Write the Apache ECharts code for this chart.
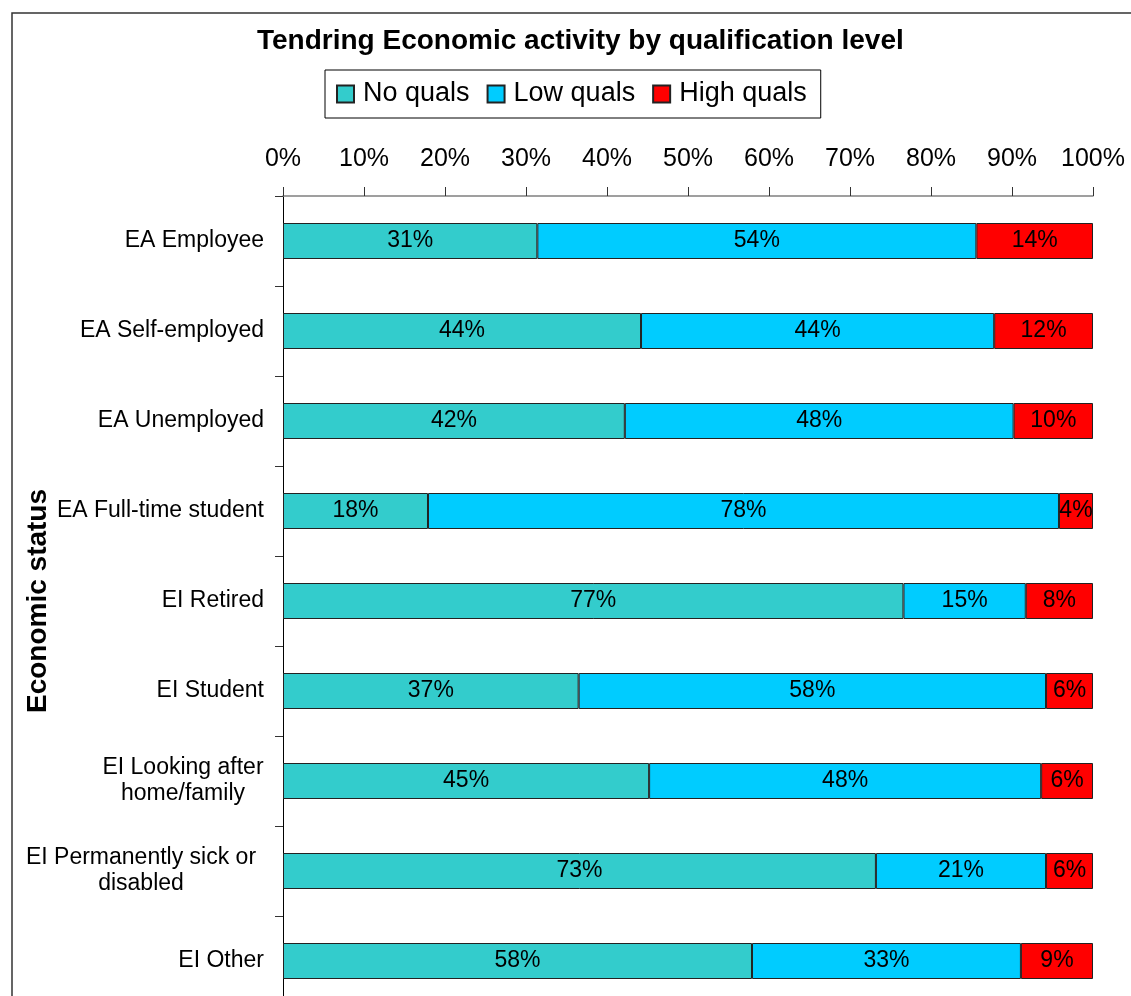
<!DOCTYPE html>
<html>
<head>
<meta charset="utf-8">
<title>Tendring Economic activity by qualification level</title>
<script src="https://cdn.jsdelivr.net/npm/echarts@6/dist/echarts.min.js"></script>
<style>
  html, body { margin: 0; padding: 0; background: #fff; }
  #chart { width: 1131px; height: 996px; }
</style>
</head>
<body>
<div id="chart"></div>
<script>
const categories = [
  "EA Employee",
  "EA Self-employed",
  "EA Unemployed",
  "EA Full-time student",
  "EI Retired",
  "EI Student",
  "EI Looking after\nhome/family",
  "EI Permanently sick or\ndisabled",
  "EI Other"
];
const noQuals   = [31.4, 44.2, 42.2, 17.9, 76.6, 36.5, 45.2, 73.2, 57.9];
const lowQuals  = [54.2, 43.6, 48.0, 77.9, 15.1, 57.7, 48.4, 21.0, 33.2];
const highQuals = [14.4, 12.2,  9.8,  4.2,  8.3,  5.8,  6.4,  5.8,  8.9];

const FONT = "'Liberation Sans', Arial, sans-serif";
const COLORS = { no: "#33CCCC", low: "#00CCFF", high: "#FF0000" };

const chart = echarts.init(document.getElementById("chart"));

// multi-line labels are centred line by line, single ones right aligned
function catLabel(val) {
  if (val.indexOf("\n") < 0) return val;
  const lines = val.split("\n");
  const style = lines[0].length > 18 ? "w" : "n";
  return lines.map(s => `{${style}|${s}}`).join("\n");
}

function barSeries(name, data, color) {
  return {
    name,
    type: "bar",
    stack: "total",
    data,
    barWidth: 36,
    itemStyle: { color, borderColor: "#222", borderWidth: 1 },
    label: {
      show: true,
      position: "inside",
      color: "#000",
      fontSize: 23,
      fontFamily: FONT,
      formatter: p => Math.round(p.value) + "%"
    },
    emphasis: { disabled: true }
  };
}

const richLine = { fontSize: 23, lineHeight: 26, align: "center", fontFamily: FONT, color: "#000" };

chart.setOption({
  backgroundColor: "#fff",
  animation: false,
  textStyle: { fontFamily: FONT },
  title: {
    text: "Tendring Economic activity by qualification level",
    left: 252,
    top: 22,
    textStyle: { fontSize: 28, fontWeight: "bold", color: "#000", fontFamily: FONT }
  },
  legend: {
    left: 325,
    top: 70,
    padding: [10, 14, 10, 11],
    itemWidth: 17,
    itemHeight: 17,
    itemGap: 17,
    icon: "rect",
    borderColor: "#000",
    borderWidth: 1,
    textStyle: { fontSize: 27, lineHeight: 28, color: "#000", fontFamily: FONT, padding: [0, 0, 0, 4] },
    data: ["No quals", "Low quals", "High quals"]
  },
  graphic: [{
    type: "rect",
    shape: { x: 12, y: 13, width: 1300, height: 1200 },
    style: { fill: "none", stroke: "#333", lineWidth: 1.5 },
    silent: true
  }],
  grid: {
    left: 283, top: 196, width: 810, height: 810,
    containLabel: false,
    outerBoundsMode: "none"
  },
  xAxis: {
    type: "value",
    position: "top",
    min: 0,
    max: 100,
    interval: 10,
    axisLine: { show: true, lineStyle: { color: "#808080", width: 1.5 } },
    axisTick: { show: true, length: 9, lineStyle: { color: "#333" } },
    splitLine: { show: false },
    axisLabel: { formatter: "{value}%", fontSize: 25, color: "#000", margin: 24, fontFamily: FONT }
  },
  yAxis: {
    type: "category",
    inverse: true,
    data: categories,
    name: "Economic status",
    nameLocation: "middle",
    nameRotate: 90,
    nameGap: 231,
    nameMoveOverlap: false,
    nameTextStyle: { fontSize: 28, fontWeight: "bold", color: "#000", fontFamily: FONT },
    axisLine: { show: true, lineStyle: { color: "#000", width: 1 } },
    axisTick: { show: true, length: 8, lineStyle: { color: "#333" } },
    axisLabel: {
      fontSize: 23,
      color: "#000",
      margin: 19,
      lineHeight: 26,
      fontFamily: FONT,
      formatter: catLabel,
      rich: {
        n: Object.assign({ width: 162 }, richLine),
        w: Object.assign({ width: 246 }, richLine)
      }
    }
  },
  series: [
    barSeries("No quals", noQuals, COLORS.no),
    barSeries("Low quals", lowQuals, COLORS.low),
    barSeries("High quals", highQuals, COLORS.high)
  ]
});

window.addEventListener("resize", () => chart.resize());
</script>
</body>
</html>
